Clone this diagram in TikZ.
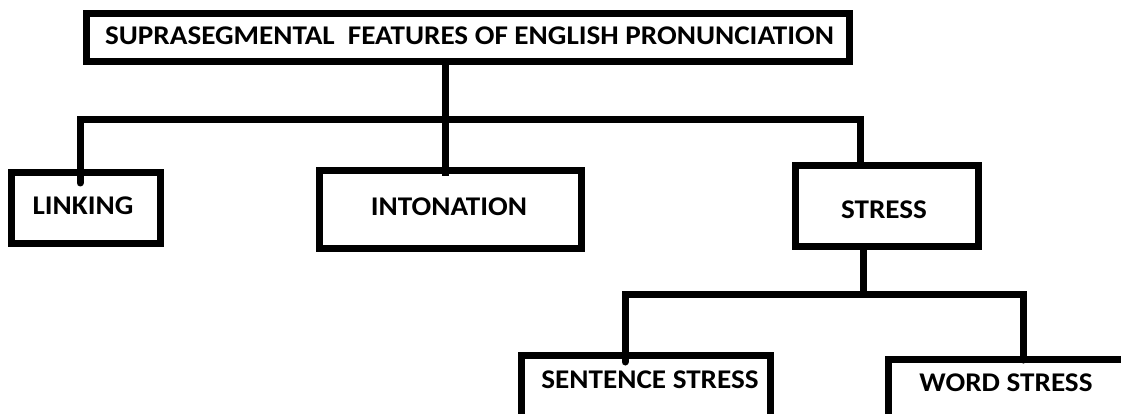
\documentclass[tikz,border=0pt]{standalone}
\usepackage{fontspec}
\setmainfont{Carlito}
\newfontfamily\boxfont[FakeStretch=1.08]{Carlito}
\begin{document}
\begin{tikzpicture}[x=1pt,y=-1pt,
  box/.style={draw=black,line width=7pt,rectangle,inner sep=0pt,outer sep=0pt,fill=white,
    font=\boxfont\bfseries\fontsize{27}{30}\selectfont},
  lbl/.style={inner sep=0pt,font=\boxfont\bfseries\fontsize{27}{30}\selectfont},
  conn/.style={draw=black,line width=7pt,line join=miter},
  rnd/.style={line cap=round}]
\useasboundingbox (0,0) rectangle (1121,414);
\fill[white] (0,0) rectangle (1121,414);
\begin{scope}
\clip (0,0) rectangle (1121,414);
\coordinate (bus1L) at (80,119.5);
\coordinate (bus1R) at (860,119.5);
\coordinate (bus2L) at (625,294.5);
\coordinate (bus2R) at (1023,294.5);
\coordinate (linkEnd) at (80,183);
\coordinate (sentEnd) at (625,362);
\coordinate (wordEnd) at (1023,360);
\coordinate (intoEnd) at (445,176);
% boxes
\node[box,minimum width=763,minimum height=48.5] (root) at (468,37.75) {};
\node[lbl] (rootT) at (469.5,36) {SUPRASEGMENTAL\ \ FEATURES OF ENGLISH PRONUNCIATION};
\node[box,minimum width=149,minimum height=71] (linking) at (86,208) {};
\node[lbl] (linkingT) at (83,206) {LINKING};
\node[box,minimum width=262,minimum height=78] (intonation) at (450.5,209.5) {};
\node[lbl] (intonationT) at (449,207) {INTONATION};
\node[box,minimum width=183,minimum height=81] (stress) at (887,206) {};
\node[lbl] (stressT) at (884,210) {STRESS};
\node[box,minimum width=249,minimum height=70] (sentence) at (646,390.5) {};
\node[lbl] (sentenceT) at (650,380) {SENTENCE STRESS};
\node[box,minimum width=260,minimum height=70] (word) at (1018.5,394.5) {};
\node[lbl] (wordT) at (1006,383) {WORD STRESS};
% connectors
\draw[conn] (root.south -| intoEnd) -- (intoEnd);
\draw[conn,rnd] (linkEnd) -- (bus1L) -- (bus1R) -- (stress.north -| bus1R);
\draw[conn] (stress.south -| 863,0) -- (863,294.5);
\draw[conn,rnd] (sentEnd) -- (bus2L) -- (bus2R) -- (wordEnd);
\end{scope}
\end{tikzpicture}
\end{document}
